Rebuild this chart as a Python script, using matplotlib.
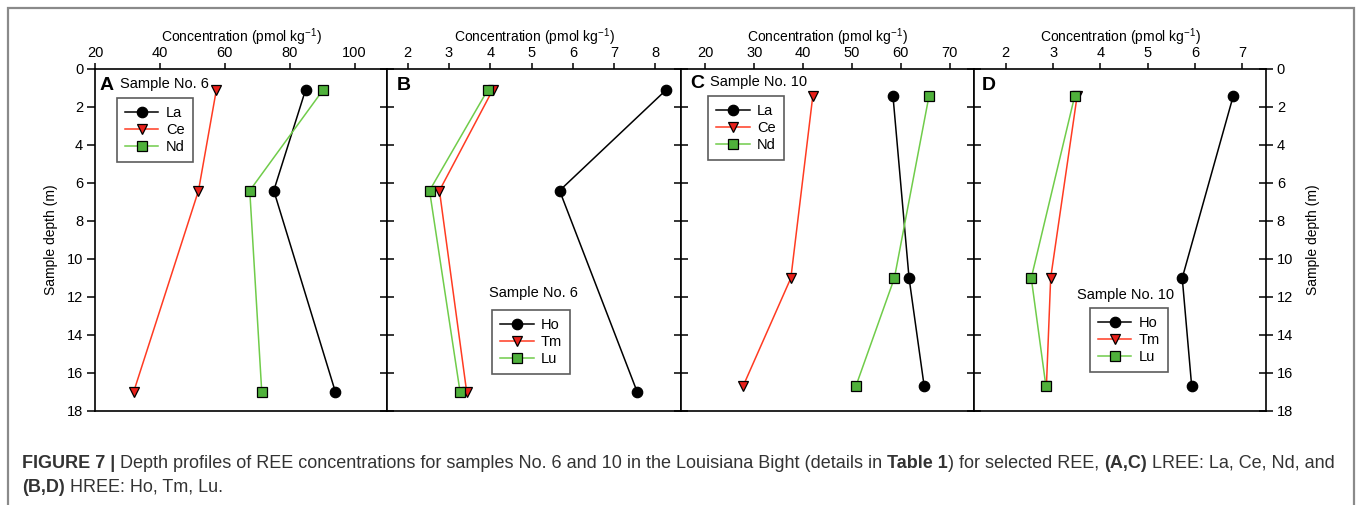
import matplotlib
matplotlib.use("Agg")
import matplotlib.pyplot as plt
from matplotlib.patches import Rectangle

plt.rcParams['font.family'] = ['Liberation Sans', 'DejaVu Sans']
plt.rcParams['mathtext.fontset'] = 'custom'
plt.rcParams['mathtext.rm'] = 'Liberation Sans'
plt.rcParams['mathtext.it'] = 'Liberation Sans:italic'
plt.rcParams['mathtext.bf'] = 'Liberation Sans:bold'

# Sample No. 6 (depth in m, concentration in pmol/kg)
depth_6 = [1.1, 6.4, 17.0]
la_6 = [84.9, 75.1, 94.1]
ce_6 = [57.4, 51.9, 31.9]
nd_6 = [90.3, 67.7, 71.4]
ho_6 = [8.26, 5.68, 7.56]
tm_6 = [4.06, 2.77, 3.43]
lu_6 = [3.94, 2.53, 3.27]

# Sample No. 10
depth_10 = [1.4, 11.0, 16.7]
la_10 = [58.4, 61.7, 64.8]
ce_10 = [42.0, 37.5, 27.7]
nd_10 = [65.8, 58.7, 50.8]
ho_10 = [6.81, 5.73, 5.93]
tm_10 = [3.51, 2.95, 2.86]
lu_10 = [3.46, 2.54, 2.85]

lree = ['La', 'Ce', 'Nd']
hree = ['Ho', 'Tm', 'Lu']

x_ticks_a = [20, 40, 60, 80, 100]
x_ticks_b = [2, 3, 4, 5, 6, 7, 8]
x_ticks_c = [20, 30, 40, 50, 60, 70]
x_ticks_d = [2, 3, 4, 5, 6, 7]
y_ticks = [0, 2, 4, 6, 8, 10, 12, 14, 16, 18]

RED_LINE = '#ff3b22'
RED_FILL = '#e8201a'
GREEN_LINE = '#70cc4a'
GREEN_FILL = '#4fb13b'

W, H = 1357, 505
fig = plt.figure(figsize=(W / 100, H / 100), dpi=100)

# outer frame
fig.patches.append(Rectangle((8 / W, -0.05), (1354 - 8) / W, 1.05 - 8 / H,
                             transform=fig.transFigure, fill=False,
                             edgecolor='#8a8a8a', linewidth=1.6))

bottom = 1 - 411 / H
height = (411 - 69) / H
lefts = [95, 387, 681, 974]
rights = [387, 681, 974, 1266]
axes = [fig.add_axes([l / W, bottom, (r - l) / W, height]) for l, r in zip(lefts, rights)]


def profile(ax, depth, series, names):
    styles = [dict(color='black', marker='o', markerfacecolor='black'),
              dict(color=RED_LINE, marker='v', markerfacecolor=RED_FILL),
              dict(color=GREEN_LINE, marker='s', markerfacecolor=GREEN_FILL)]
    for vals, name, st in zip(series, names, styles):
        ax.plot(vals, depth, label=name, linewidth=1.1, markersize=7.5,
                markeredgecolor='black', markeredgewidth=0.9, **st)


profile(axes[0], depth_6, [la_6, ce_6, nd_6], lree)
profile(axes[1], depth_6, [ho_6, tm_6, lu_6], hree)
profile(axes[2], depth_10, [la_10, ce_10, nd_10], lree)
profile(axes[3], depth_10, [ho_10, tm_10, lu_10], hree)

TICK_FS = 10.5
xlims = [(20, 110), (1.5, 8.62), (15, 75), (1.33, 7.5)]
xticks = [x_ticks_a, x_ticks_b, x_ticks_c, x_ticks_d]
for i, ax in enumerate(axes):
    ax.set_xlim(*xlims[i])
    ax.set_ylim(18, 0)
    ax.set_xticks(xticks[i])
    ax.set_yticks(y_ticks)
    ax.xaxis.set_ticks_position('top')
    ax.xaxis.set_label_position('top')
    ax.tick_params(axis='x', direction='out', length=4.5, width=1.1, pad=2,
                   labelsize=TICK_FS, colors='black')
    ax.set_xlabel(r'Concentration (pmol kg$^{\mathregular{-1}}$)', fontsize=10, labelpad=2.5)
    for s in ax.spines.values():
        s.set_linewidth(1.2)
    if i == 0:
        ax.tick_params(axis='y', direction='out', length=5.5, width=1.1,
                       labelsize=TICK_FS, pad=3)
        ax.set_ylabel('Sample depth (m)', fontsize=10, labelpad=6)
    elif i == 3:
        ax.yaxis.set_ticks_position('both')
        ax.yaxis.set_label_position('right')
        ax.tick_params(axis='y', direction='inout', length=9.5, width=1.1,
                       labelleft=False, labelright=True, labelsize=TICK_FS, pad=3)
        ax.set_ylabel('Sample depth (m)', fontsize=10, labelpad=9, rotation=90)
    else:
        ax.tick_params(axis='y', direction='inout', length=9.5, width=1.1,
                       labelleft=False)

leg_kw = dict(fontsize=10.5, frameon=True, fancybox=False, handlelength=2.3,
              labelspacing=0.2, borderpad=0.55, handletextpad=0.5, borderaxespad=0)
leg_pos = [(0.075, 0.915), (0.357, 0.295), (0.092, 0.921), (0.397, 0.301)]
for ax, pos in zip(axes, leg_pos):
    leg = ax.legend(loc='upper left', bbox_to_anchor=pos, **leg_kw)
    leg.get_frame().set_edgecolor('#333333')
    leg.get_frame().set_linewidth(1.2)

letters = ['A', 'B', 'C', 'D']
letter_x = [0.017, 0.034, 0.03, 0.027]
letter_y = [0.953, 0.953, 0.959, 0.953]
for ax, lt, lx, ly in zip(axes, letters, letter_x, letter_y):
    ax.text(lx, ly, lt, transform=ax.transAxes, fontsize=14, fontweight='bold',
            va='center', ha='left')

axes[0].text(0.086, 0.955, 'Sample No. 6', transform=axes[0].transAxes,
             fontsize=10.5, va='center', ha='left')
axes[2].text(0.099, 0.961, 'Sample No. 10', transform=axes[2].transAxes,
             fontsize=10.5, va='center', ha='left')
axes[1].text(0.497, 0.345, 'Sample No. 6', transform=axes[1].transAxes,
             fontsize=10.5, va='center', ha='center')
axes[3].text(0.52, 0.339, 'Sample No. 10', transform=axes[3].transAxes,
             fontsize=10.5, va='center', ha='center')

# caption with mixed bold / regular runs
renderer = fig.canvas.get_renderer()


def caption_line(pieces, x_px, y_px, size=13.0, color='#333333'):
    x = x_px
    for txt, weight in pieces:
        t = fig.text(x / W, 1 - y_px / H, txt, fontsize=size, fontweight=weight,
                     color=color, ha='left', va='baseline')
        x += t.get_window_extent(renderer).width


caption_line([('FIGURE 7 | ', 'bold'),
              ('Depth profiles of REE concentrations for samples No. 6 and 10 in the '
               'Louisiana Bight (details in ', 'normal'),
              ('Table 1', 'bold'),
              (') for selected REE, ', 'normal'),
              ('(A,C)', 'bold'),
              (' LREE: La, Ce, Nd, and', 'normal')], 22, 468)
caption_line([('(B,D)', 'bold'), (' HREE: Ho, Tm, Lu.', 'normal')], 22, 492)

fig.savefig('out.png', dpi=100)
